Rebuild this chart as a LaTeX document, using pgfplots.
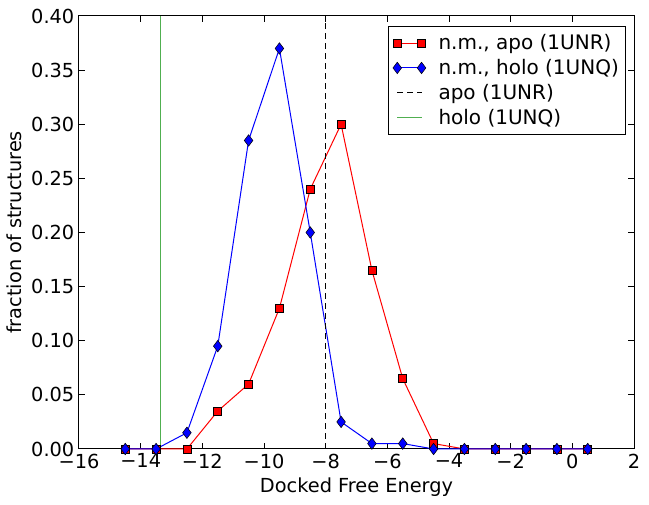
\documentclass[border=0pt]{standalone}
\usepackage{pgfplots}
\pgfplotsset{compat=1.18}
\usepackage{fontspec}
\setmainfont{DejaVu Sans}
\definecolor{mgreen}{RGB}{80,175,80}
\begin{document}
\begin{tikzpicture}[font=\fontsize{14.5}{17}\selectfont]
\begin{axis}[
  scale only axis, width=416.25pt, height=324.75pt,
  xmin=-16, xmax=2, ymin=0, ymax=0.4,
  xtick={-16,-14,-12,-10,-8,-6,-4,-2,0,2},
  xticklabels={−16,−14,−12,−10,−8,−6,−4,−2,0,2},
  ytick={0,0.05,0.10,0.15,0.20,0.25,0.30,0.35,0.40},
  yticklabel style={/pgf/number format/.cd, fixed, fixed zerofill, precision=2},
  tick align=inside, major tick length=4.5pt,
  axis line style={line width=0.75pt}, every tick/.style={line width=0.75pt, black},
  xlabel={Docked Free Energy}, ylabel={fraction of structures},
  clip=false,
  legend cell align=left,
  legend image code/.code={\draw[#1] plot coordinates {(0cm,0cm) (0.64cm,0cm)};},
  legend style={at={(rel axis cs:1,1)}, anchor=north east, xshift=-6pt, yshift=-7.5pt, draw=black, fill=white, line width=0.75pt, row sep=1.75pt, inner xsep=3pt, inner ysep=4pt, font=\fontsize{15}{17}\selectfont, /tikz/every odd column/.append style={column sep=7.5pt}},
  /pgf/number format/assume math mode=true,
]
\addplot[red, line width=0.75pt, mark=square*, mark size=3pt, mark options={fill=red, draw=black, line width=0.4pt}] coordinates {
(-14.5,0) (-13.5,0) (-12.5,0) (-11.5,0.035) (-10.5,0.06) (-9.5,0.13) (-8.5,0.24) (-7.5,0.30) (-6.5,0.165) (-5.5,0.065) (-4.5,0.005) (-3.5,0) (-2.5,0) (-1.5,0) (-0.5,0) (0.5,0)};
\addlegendentry{n.m., apo (1UNR)}
\addplot[blue, line width=0.75pt, mark=diamond*, mark size=4.3pt, mark options={fill=blue, draw=black, line width=0.4pt}] coordinates {
(-14.5,0) (-13.5,0) (-12.5,0.015) (-11.5,0.095) (-10.5,0.285) (-9.5,0.37) (-8.5,0.20) (-7.5,0.025) (-6.5,0.005) (-5.5,0.005) (-4.5,0) (-3.5,0) (-2.5,0) (-1.5,0) (-0.5,0) (0.5,0)};
\addlegendentry{n.m., holo (1UNQ)}
\addplot[black, line width=0.75pt, dash pattern=on 4.5pt off 3pt] coordinates {(-8,0) (-8,0.4)};
\addlegendentry{apo (1UNR)}
\addplot[mgreen, line width=0.75pt] coordinates {(-13.35,0) (-13.35,0.4)};
\addlegendentry{holo (1UNQ)}
\end{axis}
\pgfresetboundingbox
\path ([xshift=-59.25pt,yshift=-42pt]current axis.south west) rectangle ([xshift=11.25pt,yshift=12pt]current axis.north east);
\end{tikzpicture}
\end{document}
